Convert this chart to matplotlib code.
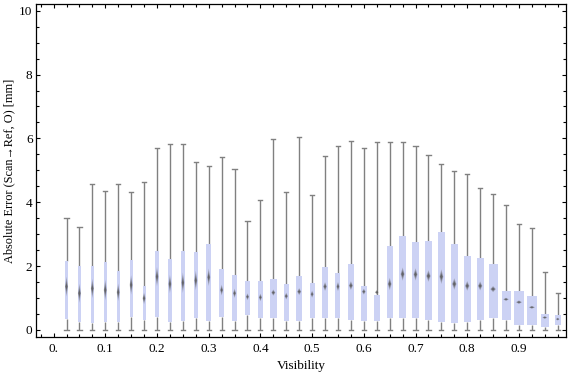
import matplotlib
matplotlib.use("Agg")
import matplotlib.pyplot as plt
from matplotlib.patches import Rectangle, Polygon
from matplotlib.ticker import MultipleLocator, FixedLocator, FixedFormatter
import numpy as np

# ---- data ----
visibility = [0.025, 0.05, 0.075, 0.1, 0.125, 0.15, 0.175, 0.2, 0.225, 0.25,
              0.275, 0.3, 0.325, 0.35, 0.375, 0.4, 0.425, 0.45, 0.475, 0.5,
              0.525, 0.55, 0.575, 0.6, 0.625, 0.65, 0.675, 0.7, 0.725, 0.75,
              0.775, 0.8, 0.825, 0.85, 0.875, 0.9, 0.925, 0.95, 0.975]
whisker_low = [0.0] * 39
q1 = [0.34, 0.26, 0.23, 0.26, 0.26, 0.42, 0.31, 0.42, 0.26, 0.29,
      0.36, 0.29, 0.42, 0.29, 0.48, 0.36, 0.36, 0.29, 0.29, 0.39,
      0.36, 0.36, 0.32, 0.29, 0.29, 0.36, 0.39, 0.39, 0.32, 0.26,
      0.23, 0.26, 0.32, 0.39, 0.32, 0.17, 0.17, 0.10, 0.17]
median = [1.36, 1.15, 1.30, 1.25, 1.18, 1.41, 0.99, 1.67, 1.44, 1.48,
          1.55, 1.65, 1.25, 1.15, 1.04, 1.02, 1.17, 1.06, 1.20, 1.12,
          1.36, 1.36, 1.39, 1.20, 1.18, 1.44, 1.75, 1.74, 1.69, 1.67,
          1.44, 1.38, 1.38, 1.28, 0.96, 0.87, 0.71, 0.39, 0.34]
q3 = [2.16, 2.00, 2.00, 2.14, 1.85, 2.19, 1.38, 2.47, 2.21, 2.47,
      2.44, 2.69, 1.91, 1.72, 1.53, 1.53, 1.60, 1.44, 1.69, 1.47,
      1.97, 1.78, 2.07, 1.38, 1.10, 2.63, 2.94, 2.76, 2.79, 3.07,
      2.69, 2.32, 2.25, 2.07, 1.22, 1.22, 1.06, 0.51, 0.47]
whisker_high = [3.50, 3.22, 4.57, 4.35, 4.57, 4.32, 4.62, 5.69, 5.81, 5.81,
                5.25, 5.14, 5.41, 5.03, 3.41, 4.06, 5.97, 4.32, 6.03, 4.23,
                5.45, 5.76, 5.92, 5.70, 5.88, 5.88, 5.88, 5.76, 5.48, 5.20,
                4.97, 4.89, 4.44, 4.26, 3.90, 3.31, 3.18, 1.81, 1.15]
# relative sample weight of each bin (drawn as box width)
weight = [3, 3, 3, 3, 3, 3, 3, 3.5, 3.5, 3.5,
          3.5, 4.5, 4.5, 5, 5, 5, 6.5, 5.5, 6.5, 5,
          6, 5, 6.5, 6, 6, 6, 6.3, 6.3, 7, 6.3,
          7, 7, 7, 9, 9, 9.7, 10, 8, 6]

x_ticks = [0.0, 0.1, 0.2, 0.3, 0.4, 0.5, 0.6, 0.7, 0.8, 0.9]
x_ticklabels = ["0.", "0.1", "0.2", "0.3", "0.4", "0.5", "0.6", "0.7", "0.8", "0.9"]
y_ticks = [0, 2, 4, 6, 8, 10]

# ---- style ----
box_color = "#ccd2f4"
whisker_color = "#808080"
median_color = "#555555"
width_unit = 0.00194   # data units per weight unit
cap_half = 0.0040

fig = plt.figure(figsize=(5.76, 3.77), dpi=100)
ax = fig.add_axes([36 / 576, 1 - 337.3 / 377, 530 / 576, 333.3 / 377])

for xv, lo, a, m, b, hi, w in zip(visibility, whisker_low, q1, median, q3,
                                  whisker_high, weight):
    bw = w * width_unit
    # whiskers
    ax.plot([xv, xv], [lo, a], color=whisker_color, lw=1.0, zorder=1,
            solid_capstyle="butt")
    ax.plot([xv, xv], [b, hi], color=whisker_color, lw=1.0, zorder=1,
            solid_capstyle="butt")
    ax.plot([xv - cap_half, xv + cap_half], [lo, lo], color=whisker_color,
            lw=1.0, zorder=1)
    ax.plot([xv - cap_half, xv + cap_half], [hi, hi], color=whisker_color,
            lw=1.0, zorder=1)
    # box
    ax.add_patch(Rectangle((xv - bw / 2, a), bw, b - a, facecolor=box_color,
                           edgecolor="none", zorder=2))
    # median marker (soft diamond, height ~ notch size)
    hh = max(0.001 * (b - a) / bw, 0.045)
    hw = max(0.32 * bw, 0.0030)
    for s, al in [(1.0, 0.3), (0.75, 0.35), (0.5, 0.45), (0.3, 0.55)]:
        ax.add_patch(Polygon([[xv - hw * max(s, 0.6), m], [xv, m + hh * s],
                              [xv + hw * max(s, 0.6), m], [xv, m - hh * s]],
                             closed=True, facecolor=median_color,
                             edgecolor="none", alpha=al, zorder=3))

ax.set_xlim(-0.034, 0.991)
ax.set_ylim(-0.23, 10.21)

ax.xaxis.set_major_locator(FixedLocator(x_ticks))
ax.xaxis.set_major_formatter(FixedFormatter(x_ticklabels))
ax.xaxis.set_minor_locator(MultipleLocator(0.025))
ax.yaxis.set_major_locator(FixedLocator(y_ticks))
ax.yaxis.set_minor_locator(MultipleLocator(0.5))

ax.tick_params(which="both", direction="in", top=True, right=True,
               color="black", width=0.8)
ax.tick_params(which="major", length=3.0, labelsize=9.5)
ax.tick_params(which="minor", length=1.9)
ax.tick_params(axis="y", which="major", pad=2.5)
ax.tick_params(axis="x", which="major", pad=4)
for lab in ax.get_xticklabels() + ax.get_yticklabels():
    lab.set_fontfamily("Liberation Serif")

for sp in ax.spines.values():
    sp.set_linewidth(0.9)
    sp.set_color("black")

ax.set_xlabel("Visibility", fontfamily="Liberation Serif", fontsize=9.5,
              labelpad=4)
ax.set_ylabel("Absolute Error (Scan\u2192Ref, O) [mm]",
              fontfamily=["Liberation Serif", "DejaVu Serif"], fontsize=8.8,
              labelpad=3)

fig.savefig("out.png", dpi=100)
